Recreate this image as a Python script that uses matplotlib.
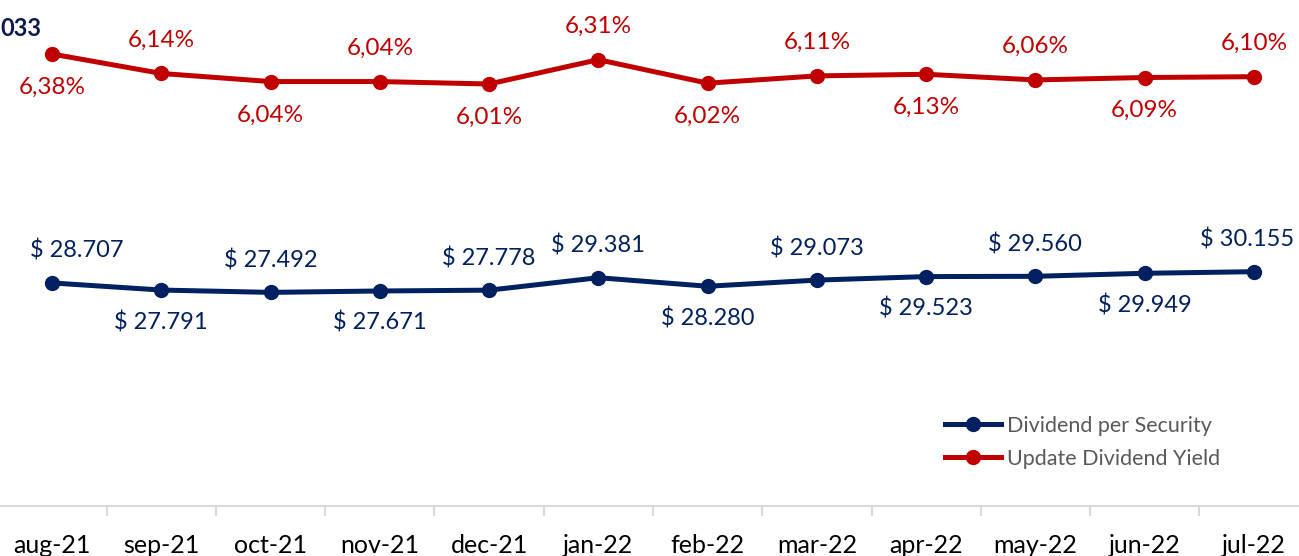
import matplotlib
matplotlib.use('Agg')
from matplotlib import pyplot as plt
from matplotlib.lines import Line2D

plt.rcParams['font.family'] = ['Lato', 'DejaVu Sans']

months = ['aug-21', 'sep-21', 'oct-21', 'nov-21', 'dec-21', 'jan-22',
          'feb-22', 'mar-22', 'apr-22', 'may-22', 'jun-22', 'jul-22']
dividend = [28707, 27791, 27492, 27671, 27778, 29381,
            28280, 29073, 29523, 29560, 29949, 30155]
div_yield = [6.38, 6.14, 6.04, 6.04, 6.01, 6.31,
             6.02, 6.11, 6.13, 6.06, 6.09, 6.10]
# label above (1) or below (-1) the point
div_side = [1, -1, 1, -1, 1, 1, -1, 1, -1, 1, -1, 1]
yld_side = [-1, 1, -1, 1, -1, 1, -1, 1, -1, 1, -1, 1]

NAVY = '#002060'
RED = '#C00000'

W, H = 1299, 556
fig = plt.figure(figsize=(W / 100, H / 100), dpi=100)

# axes slightly wider than the figure, as in the cropped original
ax = fig.add_axes([-2.6 / W, 50 / H, 1311.2 / W, 506 / H])
ax2 = ax.twinx()

x = list(range(len(months)))

ax.plot(x, dividend, color=NAVY, lw=3.6, marker='o', ms=10, solid_capstyle='round')
ax2.plot(x, div_yield, color=RED, lw=3.6, marker='o', ms=10, solid_capstyle='round')

ax.set_xlim(-0.5, len(months) - 0.5)
ax.set_ylim(0, 65120)
ax2.set_ylim(0.805, 7.046)

n = len(months)
for i, v in enumerate(dividend):
    # nudge the first and last labels inside the picture
    dx = 18 if i == 0 else (-5 if i == n - 1 else 0)
    ax.annotate('$ ' + f'{v:,}'.replace(',', '.'), (i, v),
                xytext=(dx, 23 * div_side[i]), textcoords='offset points',
                ha='center', va='center', fontsize=17, color=NAVY)

for i, v in enumerate(div_yield):
    ax2.annotate(f'{v:.2f}%'.replace('.', ','), (i, v),
                 xytext=(0, 24 * yld_side[i]), textcoords='offset points',
                 ha='center', va='center', fontsize=17.5, color=RED)

# title fragment at the top-left corner
fig.text(0, 1 - 29 / H, '033', ha='left', va='center',
         fontsize=17, fontweight='bold', color='#0d1a4f')

for a in (ax, ax2):
    for s in ['top', 'left', 'right']:
        a.spines[s].set_visible(False)
    a.set_yticks([])
ax2.spines['bottom'].set_visible(False)
ax.spines['bottom'].set_color('#d9d9d9')
ax.spines['bottom'].set_linewidth(1.5)

ax.set_xticks(x)
ax.set_xticklabels(months, fontsize=18, color='black')
ax.tick_params(axis='x', which='major', length=0, pad=20)
ax.set_xticks([i + 0.5 for i in x[:-1]], minor=True)
ax.tick_params(axis='x', which='minor', length=7, width=1.5, color='#d9d9d9')

handles = [Line2D([], [], color=NAVY, lw=3.6, marker='o', ms=10),
           Line2D([], [], color=RED, lw=3.6, marker='o', ms=10)]
fig.legend(handles, ['Dividend per Security', 'Update Dividend Yield'],
           loc='upper left', bbox_to_anchor=(945 / W, 1 - 416 / H),
           frameon=False, fontsize=15.5, labelcolor='#595959',
           handlelength=2.6, handletextpad=0.3, labelspacing=0.6,
           borderpad=0, borderaxespad=0)

fig.savefig('out.png', dpi=100)
